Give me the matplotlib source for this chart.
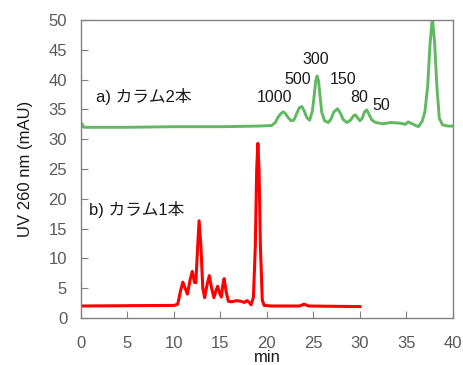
import matplotlib
matplotlib.use('agg')
import matplotlib.pyplot as plt

plt.rcParams['font.family'] = ['Liberation Sans', 'Noto Sans CJK JP']

# a) カラム2本 (green trace): time (min), UV (mAU)
t_two = [0, 0.1, 0.3, 5, 10, 15, 19, 20.5, 20.9, 21.2, 21.5, 21.75, 22.0, 22.3, 22.6,
         22.9, 23.2, 23.5, 23.75, 24.0, 24.3, 24.6, 24.9, 25.1, 25.25, 25.4, 25.55,
         25.7, 25.9, 26.2, 26.6, 26.9, 27.2, 27.6, 27.9, 28.2, 28.6, 29.0, 29.3, 29.5,
         29.7, 30.0, 30.25, 30.5, 30.75, 31.0, 31.3, 31.7, 32.5, 33.3, 34.3, 34.9, 35.2,
         35.6, 36.3, 36.7, 37.0, 37.3, 37.55, 37.8, 38.05, 38.3, 38.55, 38.9, 39.5, 40]
uv_two = [32.1, 32.6, 32.0, 32.0, 32.1, 32.1, 32.2, 32.3, 32.8, 33.7, 34.3, 34.6, 34.3, 33.6,
          33.1, 33.2, 34.3, 35.3, 35.5, 34.8, 33.6, 33.2, 34.8, 37.5, 39.8, 40.6, 39.8,
          37.5, 34.5, 33.1, 32.8, 33.4, 34.6, 35.1, 34.4, 33.3, 32.8, 33.2, 33.9, 34.1,
          33.7, 33.1, 33.5, 34.6, 34.9, 34.1, 33.2, 32.8, 32.6, 32.8, 32.7, 32.5, 32.9,
          32.6, 32.1, 33.0, 34.6, 39.0, 46.0, 50.5, 46.0, 38.5, 33.5, 32.4, 32.2, 32.2]

# b) カラム1本 (red trace)
t_one = [0, 10, 10.4, 10.7, 10.95, 11.2, 11.45, 11.75, 11.97, 12.2, 12.35, 12.55, 12.7,
         12.9, 13.1, 13.3, 13.55, 13.8, 14.05, 14.3, 14.5, 14.7, 14.95, 15.1, 15.25,
         15.4, 15.6, 15.85, 16.2, 16.7, 17.2, 17.6, 17.85, 18.1, 18.3, 18.55, 18.75,
         18.9, 19.03, 19.15, 19.3, 19.5, 19.7, 20.5, 23.5, 24, 24.5, 30]
uv_one = [2.0, 2.1, 2.3, 4.5, 6.0, 5.0, 4.0, 6.5, 7.8, 6.0, 5.9, 12.0, 16.3,
          12.0, 5.0, 3.4, 5.5, 7.1, 5.0, 3.4, 4.5, 5.3, 4.0, 3.5, 5.5,
          6.6, 4.5, 2.8, 2.7, 2.9, 2.8, 2.6, 2.9, 2.6, 2.2, 3.5, 12.0,
          25.0, 29.3, 25.0, 12.0, 3.0, 2.1, 2.0, 2.0, 2.3, 2.0, 1.9]

# peak labels (molecular size) on the green trace
peak_labels = ['1000', '500', '300', '150', '80', '50']
label_x = [20.8, 23.3, 25.3, 28.2, 29.9, 32.3]
label_y = [37.0, 40.1, 43.4, 40.1, 37.0, 35.7]

fig = plt.figure(figsize=(4.63, 3.65), dpi=100)
ax = fig.add_axes([0.175, 0.129, 0.803, 0.816])

ax.plot(t_two, uv_two, color='#60b860', lw=2.1, solid_joinstyle='round')
ax.plot(t_one, uv_one, color='#ff0000', lw=2.2, solid_joinstyle='round')

for s, x, y in zip(peak_labels, label_x, label_y):
    ax.text(x, y, s, ha='center', va='center', fontsize=11.5, color='#1a1a1a')

ax.text(1.6, 37.1, 'a) カラム2本', ha='left', va='center', fontsize=12, color='#1a1a1a')
ax.text(0.9, 18.2, 'b) カラム1本', ha='left', va='center', fontsize=12, color='#1a1a1a')

ax.set_xlim(0, 40)
ax.set_ylim(0, 50)
ax.set_xticks(range(0, 41, 5))
ax.set_yticks(range(0, 51, 5))
ax.tick_params(direction='in', length=5, color='#808080', labelsize=12,
               labelcolor='#595959')
ax.tick_params(axis='x', pad=13)
ax.tick_params(axis='y', pad=10)
for sp in ax.spines.values():
    sp.set_color('#808080')
    sp.set_linewidth(1.0)

ax.set_xlabel('min', fontsize=12, color='#1a1a1a', labelpad=-1)
ax.set_ylabel('UV 260 nm (mAU)', fontsize=12, color='#1a1a1a', labelpad=11)

fig.savefig('out.png', dpi=100)
